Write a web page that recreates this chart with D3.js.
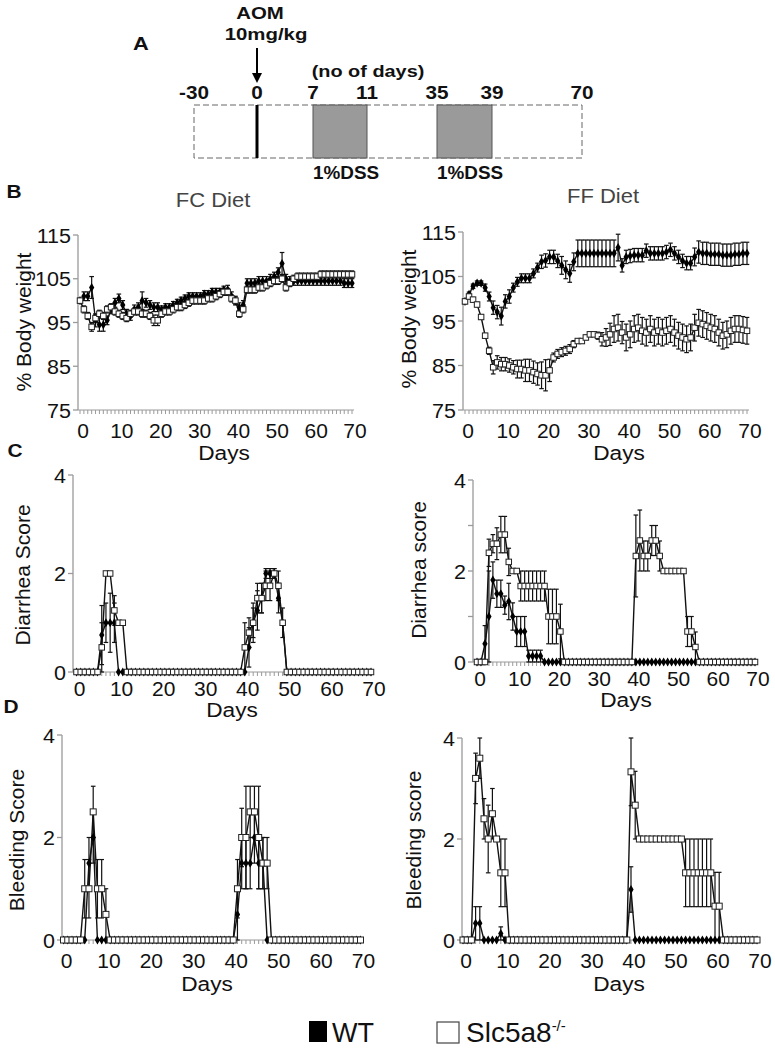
<!DOCTYPE html>
<html><head><meta charset="utf-8">
<script src="https://cdn.jsdelivr.net/npm/d3@7"></script>
<style>body{margin:0;background:#fff} text{font-family:"Liberation Sans",Arial,sans-serif}</style>
</head><body>
<svg id="c" width="775" height="1050"></svg>
<script>
// ---------------- DATA ----------------
const days = d3.range(0, 71); // day index 0..70
const xTickDays = [0,10,20,30,40,50,60,70];

// Panel A schematic
const schemeTicks = [-30,0,7,11,35,39,70];
const dssPeriods = [[7,11],[35,39]];
const aomDay = 0;

// B: % body weight, FC diet
const fcWeightWT = [100,101,101,103,95.5,94.5,94.5,95.5,98,99.5,
 100.5,99,97,96.5,98,98.5,100,99.5,99,98.5,
 98.5,98,98.5,98.5,99,99.5,100,100.5,101,101,
 101,101,101.5,101.5,102,102,102,102.5,102.5,101,
 100,98.5,99,104,104,104,104.5,104.5,104.5,105,
 105.5,106.5,108.5,105,104.5,104.5,104.5,104.5,104.5,104.5,
 104.5,104.5,104.5,104.5,104.5,104.5,104.5,104.5,104,104,104];
const fcWeightWTErr = [0.5,1,1,2.5,1.5,1.5,1.5,1,1,1,
 1,1,1,1,1,1,2,1,1,1,
 1,0.8,0.8,0.8,0.8,0.8,0.8,0.8,0.8,0.8,
 0.8,0.8,0.8,0.8,0.8,0.8,0.8,0.8,1,1,
 1,1,1,1,1,1,1,1,1,1,
 1,1,2.5,1,1,1,1,1,1,1,
 1,1,1,1,1,1,1,1,1,1,1];
const fcWeightKO = [100,98,96.5,94,96,97,96.5,98,98.5,97.5,
 97,96.5,96,97,97.5,97.5,97,97,96.5,95.5,
 95.5,97,97.5,97.5,98,98.5,98.5,99,99.5,100,
 100,100,100,100.5,100.5,101,101.5,102,102,100.5,
 100,97,98,102.5,102.5,102.5,103,103,103.5,104,
 104.5,104.5,105,103,104,105,105.5,105.5,105.5,105.5,
 105.5,105.5,106,106,106,106,106,106,106,106,106];
const fcWeightKOErr = [0.5,0.8,0.8,1,0.8,0.8,0.8,0.8,0.8,0.8,
 0.8,0.8,0.8,0.8,0.8,0.8,0.8,0.8,0.8,1.2,
 1.2,0.8,0.8,0.8,0.8,0.8,0.8,0.8,0.8,0.8,
 0.8,0.8,0.8,0.8,0.8,0.8,0.8,0.8,0.8,0.8,
 0.8,0.8,0.8,0.8,0.8,0.8,0.8,0.8,0.8,0.8,
 0.8,0.8,0.8,0.8,0.8,0.8,0.8,0.8,0.8,0.8,
 0.8,0.8,0.8,0.8,0.8,0.8,0.8,0.8,0.8,0.8,0.8];

// B: % body weight, FF diet
const ffWeightWT = [99.4,101,102.8,103.5,103.5,102.5,100.5,98,97,96.1,
 99.4,100.5,102.5,103.8,104.6,104.6,104.6,105.7,107,108.3,
 108.6,109.4,109.4,108.5,107.5,106.5,105.7,108.3,110.2,110.2,
 110.2,110.2,110.2,110.2,110.2,110.2,110.2,110.2,111.5,107.5,
 109.4,109.6,109.8,109.8,109.8,110.8,110.2,110.2,110.2,110.2,
 110.5,111,110.2,109.4,108.5,108,108,109.4,110.5,110.2,
 110.2,110,110,110,109.8,109.8,109.8,110,110,110.2,110.2];
const ffWeightWTErr = [0.5,0.5,0.5,0.5,0.5,0.8,1,1.5,1.5,2,
 1.5,1.5,1,1,1,1,1,1,1,1.5,
 1.5,1.5,1.5,1.5,2,2,2,2,3,3,
 3,3,3,3,3,3,3,3,3,1.5,
 1.5,1.5,1.5,1.5,1.5,1.5,1.5,1.5,1.5,1.5,
 1.5,1.5,1.5,1.5,1.5,1.5,1.5,2,2.5,2.5,
 2.5,2.5,2.5,2.5,2.5,2.5,2.5,2.5,2.5,2.5,2.5];
const ffWeightKO = [99.4,100.5,99.8,98.7,95.9,91.7,88.3,84.6,85.7,85.3,
 85.3,85,84.6,84.2,84.2,83.9,83.9,83.5,83.1,82.8,
 82.8,83.9,86.8,87.6,88,88.3,88.7,89.8,90.5,90.5,
 91.3,92,92,91.7,90.9,91.3,92,93.2,93.5,92.4,
 91.3,92,93.2,93.5,92.8,92.4,93.2,92.4,92.8,92.4,
 92.8,93.2,92.4,91.7,91.3,90.9,91.3,93.5,94.6,94.3,
 93.9,93.5,93.2,92.4,91.7,92,92.8,93.2,93.2,93,92.8];
const ffWeightKOErr = [0.5,0.5,0.5,0.5,0.5,0.5,0.8,1.5,1.5,1.5,
 1.5,1.5,1.5,2,2,2.5,2.5,2.5,2.5,3,
 3.5,2.5,1,1,1,1,1,0.8,0.5,0.5,
 0.5,0.5,0.5,0.8,1.5,2,2.5,3,3,2.5,
 3,3,3,3,3,3,3,3,3,3,
 3,3,3,3,3,3,3,3,3,3,
 3,3,3,3,3,3,3,3,3,3,3];

// C: diarrhea score
const fcDiarrheaWT = [0,0,0,0,0,0,0.75,1,1,1, 0,0,0,0,0,0,0,0,0,0, 0,0,0,0,0,0,0,0,0,0, 0,0,0,0,0,0,0,0,0,0,
 0,0.5,1,1.25,1.5,2,2,2,1.5,1, 0,0,0,0,0,0,0,0,0,0, 0,0,0,0,0,0,0,0,0,0,0];
const fcDiarrheaWTErr = [0,0,0,0,0,0,0.6,0.4,0.6,0.4, 0,0,0,0,0,0,0,0,0,0, 0,0,0,0,0,0,0,0,0,0, 0,0,0,0,0,0,0,0,0,0,
 0,0.4,0.4,0.4,0.3,0.1,0.1,0.1,0.3,0.3, 0,0,0,0,0,0,0,0,0,0, 0,0,0,0,0,0,0,0,0,0,0];
const fcDiarrheaKO = [0,0,0,0,0,0,0.5,2,2,1.25, 1,1,0,0,0,0,0,0,0,0, 0,0,0,0,0,0,0,0,0,0, 0,0,0,0,0,0,0,0,0,0,
 0.5,0.8,1,1.5,1.5,1.75,1.75,2,1.75,1, 0,0,0,0,0,0,0,0,0,0, 0,0,0,0,0,0,0,0,0,0,0];
const fcDiarrheaKOErr = [0,0,0,0,0,0,0.5,0,0,0.3, 0,0,0,0,0,0,0,0,0,0, 0,0,0,0,0,0,0,0,0,0, 0,0,0,0,0,0,0,0,0,0,
 0.5,0.3,0.3,0.3,0.3,0.3,0.3,0.1,0.3,0, 0,0,0,0,0,0,0,0,0,0, 0,0,0,0,0,0,0,0,0,0,0];
const ffDiarrheaWT = [0,0,0.4,1,1.8,1.5,1.5,1.25,1.33,1, 0.67,0.67,0.67,0.13,0.13,0.13,0.13,0,0,0, 0,0,0,0,0,0,0,0,0,0, 0,0,0,0,0,0,0,0,0,0,
 0,0,0,0,0,0,0,0,0,0, 0,0,0,0,0,0,0,0,0,0, 0,0,0,0,0,0,0,0,0,0,0];
const ffDiarrheaWTErr = [0,0,0.4,1,0.4,0.3,0.3,0.2,0.4,0.3, 0.33,0.33,0.33,0.13,0.13,0.13,0.13,0,0,0, 0,0,0,0,0,0,0,0,0,0, 0,0,0,0,0,0,0,0,0,0,
 0,0,0,0,0,0,0,0,0,0, 0,0,0,0,0,0,0,0,0,0, 0,0,0,0,0,0,0,0,0,0,0];
const ffDiarrheaKO = [0,0,0,2.4,2.6,2.6,2.8,2.8,2.2,2, 2,1.67,1.67,1.67,1.67,1.67,1.67,1.67,1,1, 1,0.67,0,0,0,0,0,0,0,0, 0,0,0,0,0,0,0,0,0,0,
 2.33,2.67,2.33,2.33,2.67,2.67,2.33,2,2,2, 2,2,2,0.67,0.67,0.33,0,0,0,0, 0,0,0,0,0,0,0,0,0,0,0];
const ffDiarrheaKOErr = [0,0,0,0.3,0.2,0.35,0.4,0.4,0.3,0, 0,0.33,0.33,0.33,0.33,0.33,0.33,0.33,0.6,0.6, 0.6,0.6,0,0,0,0,0,0,0,0, 0,0,0,0,0,0,0,0,0,0,
 0.9,0.67,0.33,0.33,0.33,0.33,0.33,0,0,0, 0,0,0,0.33,0.33,0.33,0,0,0,0, 0,0,0,0,0,0,0,0,0,0,0];

// D: bleeding score
const fcBleedingWT = [0,0,0,0,0,0,1.5,2,0,0, 0,0,0,0,0,0,0,0,0,0, 0,0,0,0,0,0,0,0,0,0, 0,0,0,0,0,0,0,0,0,0,
 0,0.5,1.5,1.5,1.5,2,1.5,1.5,0,0, 0,0,0,0,0,0,0,0,0,0, 0,0,0,0,0,0,0,0,0,0,0];
const fcBleedingWTErr = [0,0,0,0,0,0,0.5,0.5,0,0, 0,0,0,0,0,0,0,0,0,0, 0,0,0,0,0,0,0,0,0,0, 0,0,0,0,0,0,0,0,0,0,
 0,0.5,0.5,0.5,0.5,0.5,0.5,0.5,0,0, 0,0,0,0,0,0,0,0,0,0, 0,0,0,0,0,0,0,0,0,0,0];
const fcBleedingKO = [0,0,0,0,0,1,1,2.5,1,1, 0.5,0,0,0,0,0,0,0,0,0, 0,0,0,0,0,0,0,0,0,0, 0,0,0,0,0,0,0,0,0,0,
 0,1,2,2,2.5,2.5,2,1.5,1.5,0, 0,0,0,0,0,0,0,0,0,0, 0,0,0,0,0,0,0,0,0,0,0];
const fcBleedingKOErr = [0,0,0,0,0,0.57,0.57,0.5,0.57,0.57, 0.5,0,0,0,0,0,0,0,0,0, 0,0,0,0,0,0,0,0,0,0, 0,0,0,0,0,0,0,0,0,0,
 0,0.57,0.57,1,0.5,0.5,1,0.5,0.5,0, 0,0,0,0,0,0,0,0,0,0, 0,0,0,0,0,0,0,0,0,0,0];
const ffBleedingWT = [0,0,0,0.33,0.33,0,0,0,0,0.13, 0,0,0,0,0,0,0,0,0,0, 0,0,0,0,0,0,0,0,0,0, 0,0,0,0,0,0,0,0,0,0,
 1,0,0,0,0,0,0,0,0,0, 0,0,0,0,0,0,0,0,0,0, 0,0,0,0,0,0,0,0,0,0,0];
const ffBleedingWTErr = [0,0,0,0.33,0.33,0,0,0,0,0.13, 0,0,0,0,0,0,0,0,0,0, 0,0,0,0,0,0,0,0,0,0, 0,0,0,0,0,0,0,0,0,0,
 0.45,0,0,0,0,0,0,0,0,0, 0,0,0,0,0,0,0,0,0,0, 0,0,0,0,0,0,0,0,0,0,0];
const ffBleedingKO = [0,0,0,3.2,3.6,2.4,2,2.5,2,1.33, 1.33,0,0,0,0,0,0,0,0,0, 0,0,0,0,0,0,0,0,0,0, 0,0,0,0,0,0,0,0,0,0,
 3.33,2.67,2,2,2,2,2,2,2,2, 2,2,2,1.33,1.33,1.33,1.33,1.33,1.33,1.33, 0.67,0.67,0,0,0,0,0,0,0,0,0];
const ffBleedingKOErr = [0,0,0,0.5,0.4,0.4,0.67,0.5,0,0.67, 0.67,0,0,0,0,0,0,0,0,0, 0,0,0,0,0,0,0,0,0,0, 0,0,0,0,0,0,0,0,0,0,
 0.67,0.67,0,0,0,0,0,0,0,0, 0,0,0,0.67,0.67,0.67,0.67,0.67,0.67,0.67, 0.67,0.67,0,0,0,0,0,0,0,0,0];

const seriesNames = ["WT", "Slc5a8"];

// ---------------- DRAW ----------------
const svg = d3.select("#c");
const SX = 1.1;
function txt(g, x, y, s, o = {}) {
  return g.append("text")
    .attr("transform", `translate(${x},${y}) scale(${o.sx || SX},1)`)
    .attr("text-anchor", o.anchor || "middle")
    .style("font-size", (o.size || 18) + "px")
    .style("font-weight", o.bold ? "bold" : "normal")
    .attr("fill", o.fill || "#111")
    .text(s);
}
function vtxt(g, x, y, s, size) {
  return g.append("text").attr("transform", `translate(${x},${y}) rotate(-90)`)
    .attr("text-anchor", "middle").attr("dominant-baseline", "central")
    .style("font-size", size + "px").attr("fill", "#111").text(s);
}

// ---- Panel A ----
(function () {
  const g = svg.append("g");
  const sx = d3.scaleLinear().domain(schemeTicks).range([194, 257, 313, 367, 437, 492, 582]);
  const top = 105, bot = 158;
  txt(g, 141, 50, "A", { bold: true, size: 19, sx: 1.15 });
  txt(g, 260, 19, "AOM", { bold: true, size: 17, sx: 1.2 });
  txt(g, 266, 40, "10mg/kg", { bold: true, size: 17, sx: 1.2 });
  g.append("line").attr("x1", sx(aomDay)).attr("x2", sx(aomDay)).attr("y1", 48).attr("y2", 76)
    .attr("stroke", "#000").attr("stroke-width", 2);
  g.append("path").attr("d", `M${sx(aomDay) - 5},${73} L${sx(aomDay) + 5},${73} L${sx(aomDay)},${83} Z`).attr("fill", "#000");
  txt(g, 368, 77, "(no of days)", { bold: true, size: 17, sx: 1.17 });
  schemeTicks.forEach(t => txt(g, sx(t), 99, String(t), { bold: true, size: 18, sx: 1.15 }));
  g.append("rect").attr("x", sx(-30)).attr("y", top).attr("width", sx(70) - sx(-30)).attr("height", bot - top)
    .attr("fill", "none").attr("stroke", "#666").attr("stroke-width", 1).attr("stroke-dasharray", "6,3");
  g.append("line").attr("x1", sx(aomDay)).attr("x2", sx(aomDay)).attr("y1", top).attr("y2", bot)
    .attr("stroke", "#000").attr("stroke-width", 3);
  dssPeriods.forEach(p => {
    g.append("rect").attr("x", sx(p[0])).attr("y", top).attr("width", sx(p[1]) - sx(p[0])).attr("height", bot - top)
      .attr("fill", "#9a9a9a").attr("stroke", "#555").attr("stroke-width", 1);
    txt(g, sx(p[0]), 179, "1%DSS", { bold: true, size: 18, sx: 1.05, anchor: "start" });
  });
})();

// ---- Line panels ----
const panels = [
  { wt: fcWeightWT, wtE: fcWeightWTErr, ko: fcWeightKO, koE: fcWeightKOErr, yDom: [75, 115], yTicks: [75, 85, 95, 105, 115], yMinor: [],
    xr: [80, 352], yr: [410, 235], axisX: 78, tickY: 438, daysX: 224, daysY: 460, yTitle: "% Body weight", yTx: 23, yTy: 322,
    title: "FC Diet", titleX: 213, titleY: 207, sq: 5.5 },
  { wt: ffWeightWT, wtE: ffWeightWTErr, ko: ffWeightKO, koE: ffWeightKOErr, yDom: [75, 115], yTicks: [75, 85, 95, 105, 115], yMinor: [],
    xr: [465, 747], yr: [410, 232], axisX: 463, tickY: 438, daysX: 619, daysY: 460, yTitle: "% Body weight", yTx: 408, yTy: 319,
    title: "FF Diet", titleX: 603, titleY: 203, sq: 5.5 },
  { wt: fcDiarrheaWT, wtE: fcDiarrheaWTErr, ko: fcDiarrheaKO, koE: fcDiarrheaKOErr, yDom: [0, 4], yTicks: [0, 2, 4], yMinor: [],
    xr: [76.5, 371], yr: [672, 475], axisX: 73, tickY: 696, daysX: 232, daysY: 717, yTitle: "Diarrhea Score", yTx: 22, yTy: 575, sq: 5.5 },
  { wt: ffDiarrheaWT, wtE: ffDiarrheaWTErr, ko: ffDiarrheaKO, koE: ffDiarrheaKOErr, yDom: [0, 4], yTicks: [0, 2, 4], yMinor: [1, 3],
    xr: [477, 755], yr: [662, 480], axisX: 473, tickY: 686, daysX: 626, daysY: 707, yTitle: "Diarrhea score", yTx: 418, yTy: 570, sq: 5.5 },
  { wt: fcBleedingWT, wtE: fcBleedingWTErr, ko: fcBleedingKO, koE: fcBleedingKOErr, yDom: [0, 4], yTicks: [0, 2, 4], yMinor: [],
    xr: [63.5, 360.5], yr: [940, 735], axisX: 62, tickY: 968, daysX: 207, daysY: 991, yTitle: "Bleeding Score", yTx: 16, yTy: 840, sq: 6 },
  { wt: ffBleedingWT, wtE: ffBleedingWTErr, ko: ffBleedingKO, koE: ffBleedingKOErr, yDom: [0, 4], yTicks: [0, 2, 4], yMinor: [],
    xr: [463, 757], yr: [940, 738], axisX: 462, tickY: 968, daysX: 619, daysY: 991, yTitle: "Bleeding score", yTx: 413, yTy: 840, sq: 6 },
];

panels.forEach(p => {
  const g = svg.append("g");
  const x = d3.scaleLinear().domain([0, 70]).range(p.xr);
  const y = d3.scaleLinear().domain(p.yDom).range(p.yr);
  const axisCol = "#9a9a9a";
  // y axis
  g.append("line").attr("x1", p.axisX).attr("x2", p.axisX).attr("y1", y(p.yDom[0])).attr("y2", y(p.yDom[1]))
    .attr("stroke", axisCol).attr("stroke-width", 1.3);
  p.yTicks.concat(p.yMinor).forEach(t => g.append("line").attr("x1", p.axisX - 5).attr("x2", p.axisX)
    .attr("y1", y(t)).attr("y2", y(t)).attr("stroke", axisCol).attr("stroke-width", 1.3));
  p.yTicks.forEach(t => txt(g, p.axisX - 7, y(t) + 7.5, String(t), { anchor: "end", size: 20.5, sx: 1.05 }));
  // x axis with a tick every day
  const y0 = y(p.yDom[0]);
  g.append("line").attr("x1", p.axisX).attr("x2", x(70) + 2).attr("y1", y0).attr("y2", y0)
    .attr("stroke", axisCol).attr("stroke-width", 1);
  g.selectAll(null).data(days).enter().append("line")
    .attr("x1", d => x(d)).attr("x2", d => x(d)).attr("y1", y0).attr("y2", y0 + 4)
    .attr("stroke", axisCol).attr("stroke-width", 1);
  xTickDays.forEach(t => txt(g, x(t) + 3, p.tickY, String(t), { size: 20, sx: 1.05 }));
  txt(g, p.daysX, p.daysY, "Days", { size: 21, sx: 1.08 });
  vtxt(g, p.yTx, p.yTy, p.yTitle, 21);
  if (p.title) txt(g, p.titleX, p.titleY, p.title, { size: 20, sx: 1.1, fill: "#444" });

  const line = d3.line().x((d, i) => x(days[i])).y(d => y(d));
  const drawErr = (vals, errs) => {
    vals.forEach((v, i) => {
      const e = errs[i];
      if (!e) return;
      const xx = x(days[i]);
      g.append("line").attr("x1", xx).attr("x2", xx).attr("y1", y(v - e)).attr("y2", y(v + e)).attr("stroke", "#111").attr("stroke-width", 1.2);
      [v - e, v + e].forEach(w => g.append("line").attr("x1", xx - 2.3).attr("x2", xx + 2.3).attr("y1", y(w)).attr("y2", y(w)).attr("stroke", "#111").attr("stroke-width", 1.2));
    });
  };
  drawErr(p.wt, p.wtE);
  drawErr(p.ko, p.koE);
  g.append("path").attr("d", line(p.wt)).attr("fill", "none").attr("stroke", "#111").attr("stroke-width", 1.4);
  g.append("path").attr("d", line(p.ko)).attr("fill", "none").attr("stroke", "#111").attr("stroke-width", 1.4);
  const sym = d3.symbol().type(d3.symbolDiamond).size(24);
  g.selectAll(null).data(p.wt).enter().append("path").attr("d", sym)
    .attr("transform", (d, i) => `translate(${x(days[i])},${y(d)})`).attr("fill", "#000");
  const s = p.sq;
  g.selectAll(null).data(p.ko).enter().append("rect")
    .attr("x", (d, i) => x(days[i]) - s / 2).attr("y", d => y(d) - s / 2).attr("width", s).attr("height", s)
    .attr("fill", "#fff").attr("stroke", "#222").attr("stroke-width", 1);
});

// panel letters
txt(svg, 14, 198, "B", { bold: true, size: 19, sx: 1.1 });
txt(svg, 15, 457, "C", { bold: true, size: 19, sx: 1.1 });
txt(svg, 11, 713, "D", { bold: true, size: 19, sx: 1.1 });

// legend
(function () {
  const g = svg.append("g");
  g.append("rect").attr("x", 309).attr("y", 1021).attr("width", 18).attr("height", 21).attr("fill", "#000");
  txt(g, 332, 1042, seriesNames[0], { anchor: "start", size: 27, sx: 1 });
  g.append("rect").attr("x", 437).attr("y", 1022).attr("width", 22).attr("height", 21).attr("fill", "#fff").attr("stroke", "#444").attr("stroke-width", 1.2);
  const t = g.append("text").attr("x", 466).attr("y", 1042).style("font-size", "28px").attr("fill", "#111");
  t.append("tspan").text(seriesNames[1]);
  t.append("tspan").attr("dy", -11).style("font-size", "15px").text("-/-");
})();
</script>
</body></html>
